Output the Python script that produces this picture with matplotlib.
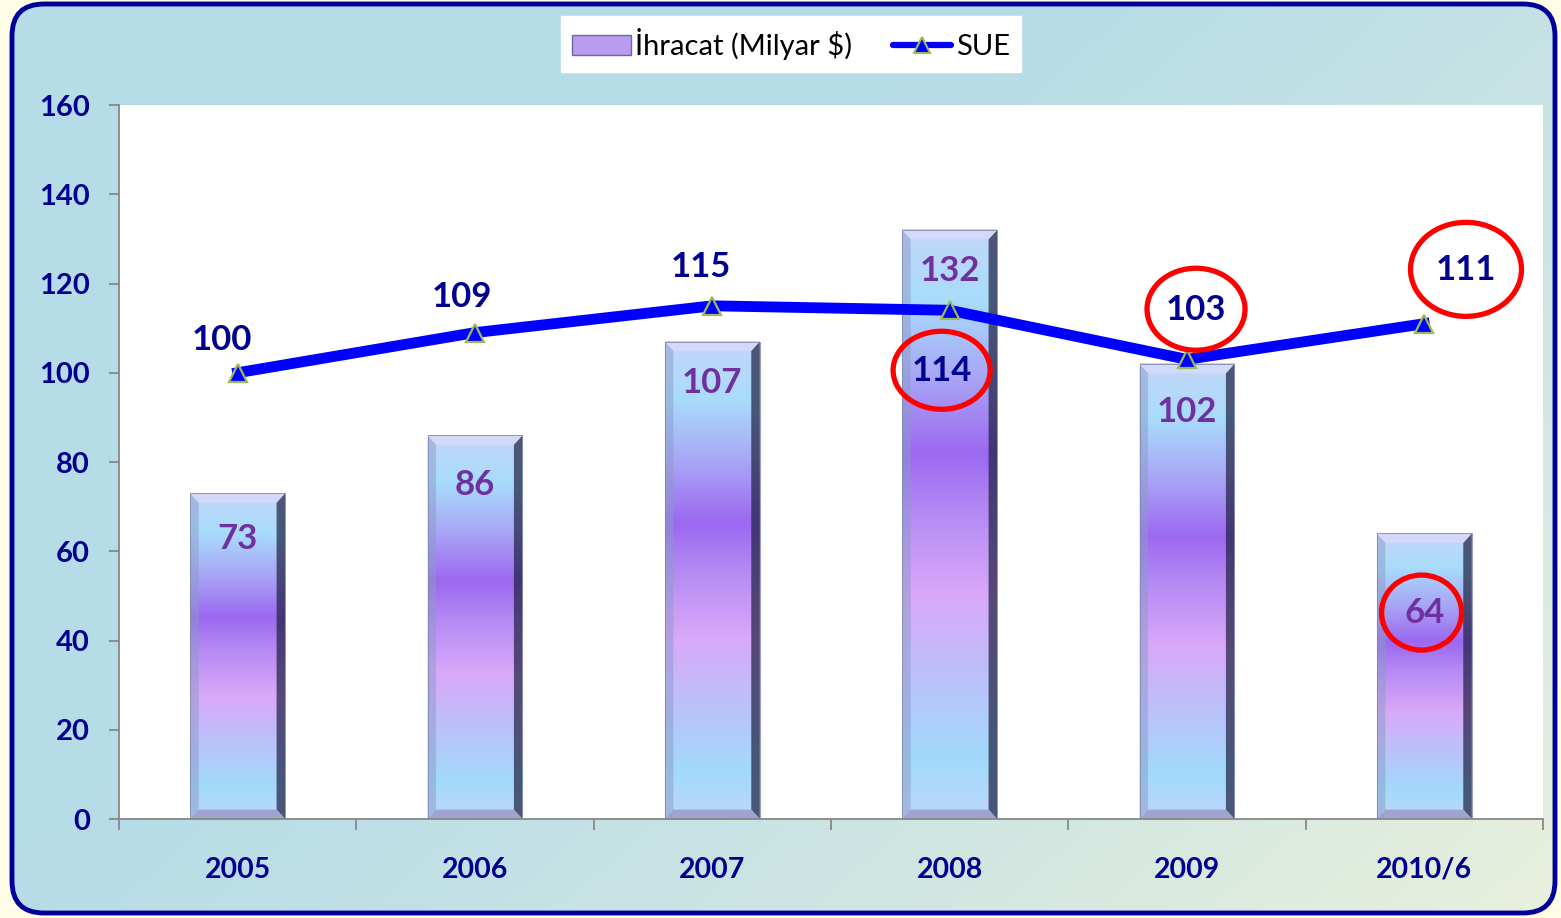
import matplotlib
matplotlib.use("Agg")
import matplotlib.pyplot as plt
import numpy as np
from matplotlib.colors import LinearSegmentedColormap, to_rgb
from matplotlib.patches import FancyBboxPatch, Rectangle, Polygon, Ellipse
from matplotlib.lines import Line2D
from matplotlib.transforms import ScaledTranslation
from matplotlib import font_manager as fm

# ---------------- data ----------------
categories = ["2005", "2006", "2007", "2008", "2009", "2010/6"]
ihracat = [73, 86, 107, 132, 102, 64]
sue = [100, 109, 115, 114, 103, 111]
yticks = [0, 20, 40, 60, 80, 100, 120, 140, 160]
# label offsets (in points) relative to the marks
sue_label_off = [(-11.5, 23.6), (-9.4, 25.6), (-8, 28), (-5.8, -43.7), (6.5, 35.6), (30, 38.6)]
bar_label_off = [-33, -36, -30, -29.5, -35, -57]
circled_sue = [3, 4, 5]
circled_bar = [5]

# pick a font family that has a real bold face
fam = 'DejaVu Sans'
for cand in ['Lato', 'Open Sans', 'Noto Sans', 'Roboto', 'Liberation Sans']:
    try:
        p = fm.findfont(fm.FontProperties(family=cand, weight='bold'), fallback_to_default=False)
        if 'bold' in p.lower() or 'black' in p.lower() or 'heavy' in p.lower():
            fam = cand
            break
    except Exception:
        pass
plt.rcParams['font.family'] = [fam, 'DejaVu Sans']

W, H = 1561, 918
fig = plt.figure(figsize=(W / 100, H / 100), dpi=100)
fig.patch.set_facecolor('#FFFDE6')

# ---------- background frame ----------
bg = fig.add_axes([0, 0, 1, 1])
bg.set_xlim(0, W)
bg.set_ylim(H, 0)
bg.axis('off')
yy, xx = np.mgrid[0:H:4, 0:W:4]
t = (xx / W * 0.6 + yy / H * 0.4)
t = np.clip((t - 0.35) / 0.65, 0, 1) ** 1.3
c1 = np.array(to_rgb('#B6DCE8'))
c2 = np.array(to_rgb('#EAF0DC'))
img = c1[None, None, :] * (1 - t[..., None]) + c2[None, None, :] * t[..., None]
im = bg.imshow(img, extent=[0, W, H, 0], aspect='auto', zorder=0)
frame = FancyBboxPatch((12, 4), W - 18, H - 9,
                       boxstyle="round,pad=0,rounding_size=32",
                       facecolor='none', edgecolor='#000099', linewidth=3.5, zorder=2)
bg.add_patch(frame)
im.set_clip_path(frame)

# ---------- main axes ----------
ax = fig.add_axes([119 / W, 1 - 819 / H, 1424 / W, 714 / H])
ax.set_facecolor('white')
ax.set_xlim(-0.5, 5.5)
ax.set_ylim(0, 160)
x = np.arange(len(categories))

bar_cmap = LinearSegmentedColormap.from_list('barg', [
    (0.00, '#BCD6FA'),
    (0.10, '#A2DAFB'),
    (0.22, '#B8C4FA'),
    (0.38, '#D9A8F9'),
    (0.52, '#B48AF4'),
    (0.62, '#9C68F0'),
    (0.75, '#A9A6F6'),
    (0.88, '#A8DCFB'),
    (1.00, '#C4D6F9'),
])
grad = np.linspace(0, 1, 256)[:, None]
bw = 0.4
bx = 0.036   # bevel in x (data units)
by = 2.1     # bevel in y (data units)
for xi, v in zip(x, ihracat):
    l, r = xi - bw / 2, xi + bw / 2
    ax.imshow(grad, cmap=bar_cmap, origin='lower', extent=[l, r, 0, v],
              aspect='auto', zorder=2, interpolation='bicubic')
    ax.add_patch(Polygon([[l, 0], [l + bx, by], [l + bx, v - by], [l, v]],
                         closed=True, facecolor='#8C9AC8', alpha=0.5, lw=0, zorder=2.1))
    ax.add_patch(Polygon([[r, 0], [r - bx, by], [r - bx, v - by], [r, v]],
                         closed=True, facecolor='#1E2040', alpha=0.7, lw=0, zorder=2.1))
    ax.add_patch(Polygon([[l, v], [l + bx, v - by], [r - bx, v - by], [r, v]],
                         closed=True, facecolor='#D6DAFA', alpha=0.9, lw=0, zorder=2.2))
    ax.add_patch(Polygon([[l, 0], [l + bx, by], [r - bx, by], [r, 0]],
                         closed=True, facecolor='#9A9CC8', alpha=0.85, lw=0, zorder=2.2))
    ax.add_patch(Rectangle((l, 0), bw, v, facecolor='none', edgecolor='#8088B0',
                           lw=0.6, zorder=2.3))

ax.plot(x, sue, color='#0000FF', lw=7.8, marker='^', ms=13, mfc='#0000FF',
        mec='#9BBB59', mew=1.6, zorder=4, solid_joinstyle='round')

for i, (xi, v) in enumerate(zip(x, sue)):
    dx, dy = sue_label_off[i]
    ax.annotate(str(v), (xi, v), xytext=(dx, dy), textcoords='offset points',
                ha='center', va='center', fontsize=25, fontweight='bold',
                color='#000090', zorder=5)
for i, (xi, v) in enumerate(zip(x, ihracat)):
    ax.annotate(str(v), (xi, v), xytext=(0, bar_label_off[i]), textcoords='offset points',
                ha='center', va='center', fontsize=25, fontweight='bold',
                color='#7030A0', zorder=5)


def ring_at(xd, yd, dxpt, dypt, wpx, hpx):
    # ellipse sized in pixels, centred at a data coordinate shifted by points
    e = Ellipse((dxpt / 72, dypt / 72), wpx / 100, hpx / 100, facecolor='none',
                edgecolor='#FF0000', lw=3.8, zorder=6)
    e.set_transform(fig.dpi_scale_trans + ScaledTranslation(xd, yd, ax.transData))
    e.set_clip_on(False)
    ax.add_artist(e)


ring_sizes = {3: (97, 78), 4: (98, 82), 5: (111, 94)}
for i in circled_sue:
    dx, dy = sue_label_off[i]
    ring_at(x[i], sue[i], dx, dy + 0.5, *ring_sizes[i])
for i in circled_bar:
    ring_at(x[i], ihracat[i], -2, bar_label_off[i], 80, 75)

# axes styling
for s in ['top', 'right']:
    ax.spines[s].set_visible(False)
for s in ['left', 'bottom']:
    ax.spines[s].set_color('#888888')
    ax.spines[s].set_linewidth(1.3)
ax.set_yticks(yticks)
ax.set_yticklabels([str(v) for v in yticks])
ax.tick_params(axis='y', direction='out', length=7, width=1.3, color='#888888',
               labelsize=21, labelcolor='#000090', pad=14)
for lab in ax.get_yticklabels():
    lab.set_fontweight('bold')
ax.set_xticks(np.arange(-0.5, 6, 1.0))
ax.set_xticklabels([])
ax.set_xticks(x, minor=True)
ax.set_xticklabels(categories, minor=True)
ax.tick_params(axis='x', which='major', direction='out', length=8, width=1.3, color='#888888')
ax.tick_params(axis='x', which='minor', length=0, labelsize=20.5, labelcolor='#000090', pad=27)
for lab in ax.get_xticklabels(minor=True):
    lab.set_fontweight('bold')

# legend
bar_handle = Rectangle((0, 0), 1, 1, facecolor='#B79CF2', edgecolor='#6A6A9A', lw=1)
line_handle = Line2D([], [], color='#0000FF', lw=4.5, marker='^', ms=12, mfc='#0000FF',
                     mec='#9BBB59', mew=1.5, solid_capstyle='round')
leg = fig.legend([bar_handle, line_handle], ['İhracat (Milyar $)', 'SUE'],
                 loc='center', bbox_to_anchor=(791 / W, 1 - 44 / H), ncol=2,
                 frameon=True, fancybox=False, fontsize=21, handlelength=2.0,
                 handletextpad=0.15, columnspacing=1.4, borderpad=0.4)
leg.get_frame().set_edgecolor('white')
leg.get_frame().set_facecolor('white')
leg.get_frame().set_alpha(1)

fig.savefig('out.png', dpi=100, facecolor=fig.get_facecolor())
